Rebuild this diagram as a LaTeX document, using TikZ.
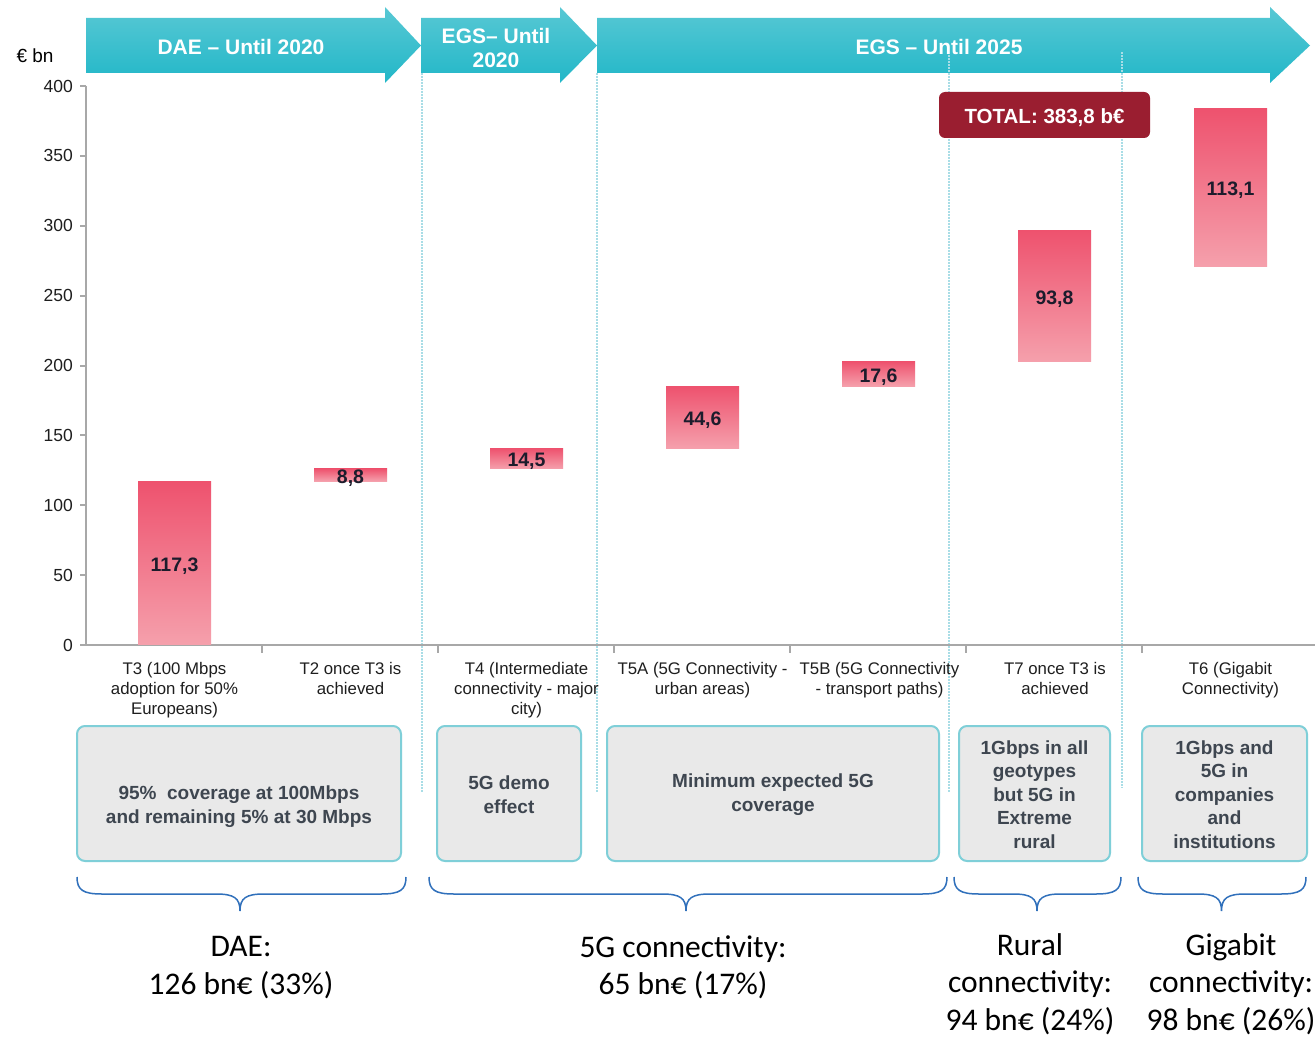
\documentclass[tikz,border=0pt]{standalone}
\usepackage{fontspec}
\setmainfont{Liberation Sans}
\newfontfamily\calib{Carlito}
\definecolor{arrowTop}{HTML}{58C8D4}
\definecolor{arrowBot}{HTML}{22B7C8}
\definecolor{barTop}{HTML}{EE526E}
\definecolor{barBot}{HTML}{F5A0AC}
\definecolor{dotcol}{HTML}{A9DDE6}
\definecolor{totalred}{HTML}{9A1E30}
\definecolor{boxfill}{HTML}{E9E9E9}
\definecolor{boxedge}{HTML}{7FCFD8}
\definecolor{boxtext}{HTML}{3E4650}
\definecolor{axiscol}{HTML}{A8A8A8}
\definecolor{bracecol}{HTML}{3070BB}
\definecolor{valtext}{HTML}{1C1C2C}
\definecolor{labtext}{HTML}{1E1E1E}
\newcommand\drawbrace[3]{%
  \draw[bracestyle] (#1,877) .. controls (#1,890) and (#1+6,894) .. (#1+25,894)
    -- (#3-24,894) .. controls (#3-6,894) and (#3,898) .. (#3,911)
    .. controls (#3,898) and (#3+6,894) .. (#3+24,894)
    -- (#2-25,894) .. controls (#2-6,894) and (#2,890) .. (#2,877);}
\begin{document}
\begin{tikzpicture}[x=1pt,y=-1pt,
  headarrow/.style={top color=arrowTop,bottom color=arrowBot,draw=none},
  headtext/.style={text=white,font=\fontsize{21}{24}\selectfont\bfseries,align=center,inner sep=0},
  dotline/.style={draw=dotcol,line width=2pt,dash pattern=on 1.6pt off 1.4pt},
  axisline/.style={draw=axiscol,line width=2pt},
  ylab/.style={anchor=east,inner sep=0,text=labtext,font=\fontsize{17.5}{20}\selectfont},
  catlabel/.style={anchor=north,inner sep=0,align=center,text=labtext,font=\fontsize{16.8}{20}\selectfont},
  barbox/.style={top color=barTop,bottom color=barBot,draw=none,inner sep=0,minimum width=73pt},
  barval/.style={inner sep=0,yshift=-3pt,text=valtext,font=\fontsize{19.5}{22}\selectfont\bfseries},
  graybox/.style={draw=boxedge,line width=2pt,fill=boxfill,rounded corners=8pt,inner sep=0,minimum height=135pt},
  boxlabel/.style={inner sep=0,align=center,text=boxtext,font=\fontsize{19}{23.5}\selectfont\bfseries},
  bracestyle/.style={draw=bracecol,line width=1.5pt},
  sumtext/.style={inner sep=0,align=center,text=black,font=\calib\fontsize{31.5}{37.5}\selectfont}]
\useasboundingbox (0,0) rectangle (1315,1038);
\fill[white] (0,0) rectangle (1315,1038);

% header arrows
\shade[headarrow] (86,18) -- (385,18) -- (385,7) -- (421,45.5) -- (385,83) -- (385,73) -- (86,73) -- cycle;
\shade[headarrow] (421,18) -- (560,18) -- (560,7) -- (597,45.5) -- (560,83) -- (560,73) -- (421,73) -- cycle;
\shade[headarrow] (597,18) -- (1270,18) -- (1270,7) -- (1310,45.5) -- (1270,83) -- (1270,73) -- (597,73) -- cycle;
\node[headtext] (h1) at (241,46.5) {DAE -- Until 2020};
\node[headtext] (h2) at (496,47.5) {EGS-- Until\\2020};
\node[headtext] (h3) at (939,46.5) {EGS -- Until 2025};

% dotted separators
\draw[dotline] (421.5,73) -- (421.5,792);
\draw[dotline] (597,73) -- (597,792);
\draw[dotline] (948.5,55) -- (948.5,792);
\draw[dotline] (1122,52) -- (1122,788);

% total box
\node[fill=totalred,rounded corners=6pt,minimum width=211pt,minimum height=46pt,inner sep=0] (total) at (1044.5,115) {};
\node[inner sep=0,yshift=-2.5pt,text=white,font=\fontsize{20.5}{24}\selectfont\bfseries] (totaltext) at (total.center) {TOTAL: 383,8 b€};

% axes
\node[inner sep=0,text=black,font=\fontsize{19}{22}\selectfont] (unit) at (35,55.5) {€ bn};
\draw[axisline] (86,86) -- (86,645);
\draw[axisline] (85,645) -- (1315,645);
\foreach \v in {0,50,...,400}{
  \draw[axisline] (80,{645-\v*1.3975}) -- (86,{645-\v*1.3975});
  \node[ylab] (y\v) at (73,{645-\v*1.3975}) {\v};
}
\foreach \k in {1,...,6}{
  \draw[axisline] ({86+176*\k},645) -- ({86+176*\k},653);
}

% bars
\node[barbox,minimum height=163.9pt] (bar1) at (174.5,563.0) {};
\node[barbox,minimum height=12.3pt]  (bar2) at (350.5,474.9) {};
\node[barbox,minimum height=20.3pt]  (bar3) at (526.5,458.6) {};
\node[barbox,minimum height=62.3pt]  (bar4) at (702.5,417.3) {};
\node[barbox,minimum height=24.6pt]  (bar5) at (878.5,373.9) {};
\node[barbox,minimum height=131.1pt] (bar6) at (1054.5,296.0) {};
\node[barbox,minimum height=158.1pt] (bar7) at (1230.5,187.7) {};
\node[barval] (v1) at (bar1.center) {117,3};
\node[barval] (v2) at (bar2.center) {8,8};
\node[barval] (v3) at (bar3.center) {14,5};
\node[barval] (v4) at (bar4.center) {44,6};
\node[barval] (v5) at (bar5.center) {17,6};
\node[barval] (v6) at (bar6.center) {93,8};
\node[barval] (v7) at (bar7.center) {113,1};

% category labels
\node[catlabel] (c1) at (174.5,662) {T3 (100 Mbps\\adoption for 50\%\\Europeans)};
\node[catlabel] (c2) at (350.5,662) {T2 once T3 is\\achieved};
\node[catlabel] (c3) at (526.5,662) {T4 (Intermediate\\connectivity - major\\city)};
\node[catlabel] (c4) at (702.5,662) {T5A (5G Connectivity -\\urban areas)};
\node[catlabel] (c5) at (879.5,662) {T5B (5G Connectivity\\- transport paths)};
\node[catlabel] (c6) at (1055,662) {T7 once T3 is\\achieved};
\node[catlabel] (c7) at (1230.5,662) {T6 (Gigabit\\Connectivity)};

% gray boxes
\node[graybox,minimum width=324pt] (b1) at (239,793.5) {};
\node[graybox,minimum width=144pt] (b2) at (509,793.5) {};
\node[graybox,minimum width=332pt] (b3) at (773,793.5) {};
\node[graybox,minimum width=151pt] (b4) at (1034.5,793.5) {};
\node[graybox,minimum width=165pt] (b5) at (1224.5,793.5) {};
\node[boxlabel] (t1) at (239,806.5) {95\%\ \ coverage at 100Mbps\\and remaining 5\% at 30 Mbps};
\node[boxlabel] (t2) at (509,794.5) {5G demo\\effect};
\node[boxlabel] (t3) at (773,794.5) {Minimum expected 5G\\coverage};
\node[boxlabel] (t4) at (1034.5,794.5) {1Gbps in all\\geotypes\\but 5G in\\Extreme\\rural};
\node[boxlabel] (t5) at (1224.5,794.5) {1Gbps and\\5G in\\companies\\and\\institutions};

% braces
\drawbrace{77}{406}{240}
\drawbrace{429}{947}{686}
\drawbrace{954}{1121}{1037}
\drawbrace{1138}{1306}{1221.5}

% summary texts
\node[sumtext] (s1) at (241,967.5) {DAE:\\126 bn€ (33\%)};
\node[sumtext] (s2) at (683,967.5) {5G connectivity:\\65 bn€ (17\%)};
\node[sumtext] (s3) at (1030,984) {Rural\\connectivity:\\94 bn€ (24\%)};
\node[sumtext] (s4) at (1231,984) {Gigabit\\connectivity:\\98 bn€ (26\%)};
\end{tikzpicture}
\end{document}
